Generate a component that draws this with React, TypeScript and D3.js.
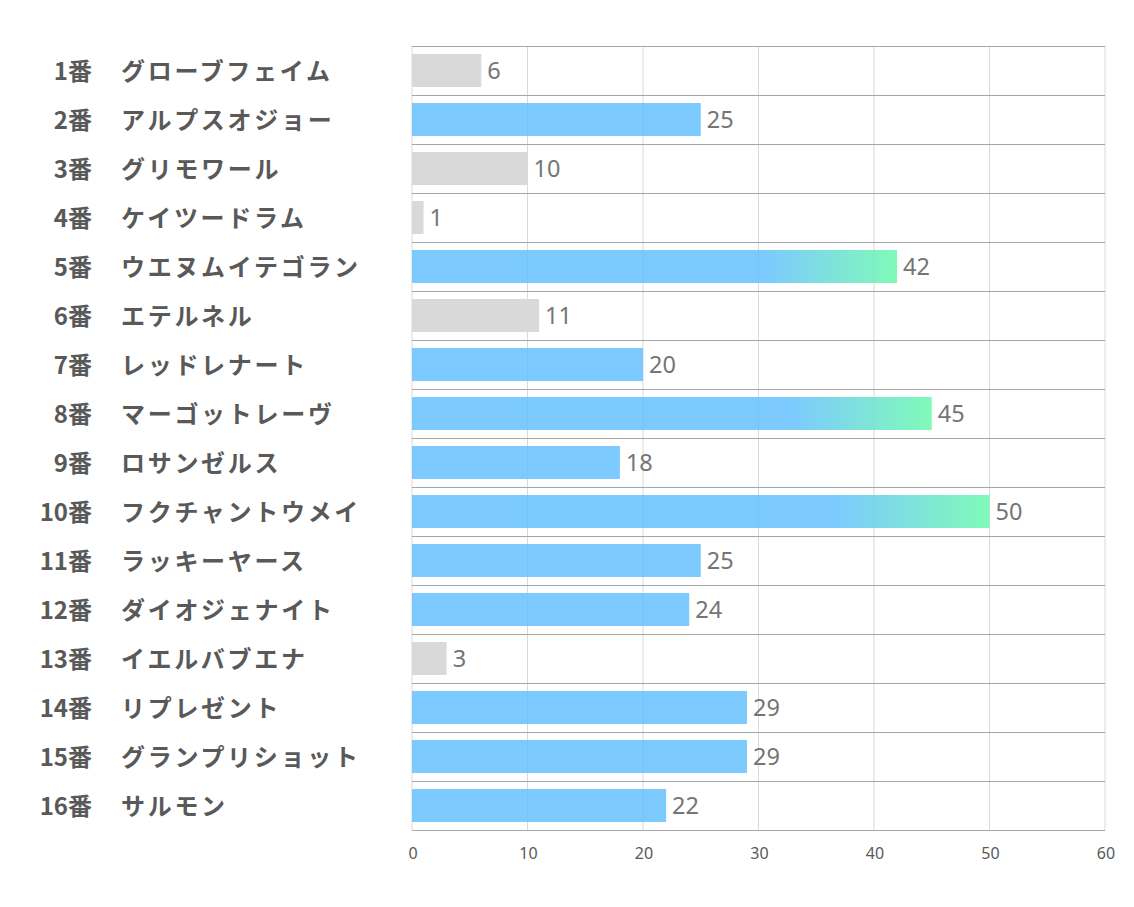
import React from "react";
import * as d3 from "d3";

const numbers = ["1番","2番","3番","4番","5番","6番","7番","8番","9番","10番","11番","12番","13番","14番","15番","16番"];
const names = ["グローブフェイム","アルプスオジョー","グリモワール","ケイツードラム","ウエヌムイテゴラン","エテルネル","レッドレナート","マーゴットレーヴ","ロサンゼルス","フクチャントウメイ","ラッキーヤース","ダイオジェナイト","イエルバブエナ","リプレゼント","グランプリショット","サルモン"];
const values = [6,25,10,1,42,11,20,45,18,50,25,24,3,29,29,22];
const kinds = ["gray","blue","gray","gray","grad","gray","blue","grad","blue","grad","blue","blue","gray","blue","blue","blue"];
const xTicks = [0,10,20,30,40,50,60];

const W = 1134, H = 907;
const left = 412, right = 1105, top = 46, bottom = 830;

export default function App() {
  const x = d3.scaleLinear().domain([0, 60]).range([left, right]);
  const y = d3.scaleBand<number>().domain(d3.range(numbers.length)).range([top, bottom]).paddingInner(0).paddingOuter(0);
  const bw = y.bandwidth();
  const barH = 33;
  const fontJP = "'Noto Sans CJK JP', 'Noto Sans', sans-serif";
  return (
    <svg width={W} height={H} style={{ position: "absolute", left: 0, top: 0, background: "#fff" }}>
      <defs>
        <linearGradient id="grad" x1="0" x2="1" y1="0" y2="0">
          <stop offset="0" stopColor="#65c1fe" />
          <stop offset="0.73" stopColor="#65c1fe" />
          <stop offset="1" stopColor="#6af9ac" />
        </linearGradient>
      </defs>
      {xTicks.map((t) => (
        <line key={"v" + t} x1={x(t)} x2={x(t)} y1={top} y2={bottom} stroke="#d9d9d9" strokeWidth={1} />
      ))}
      {d3.range(numbers.length + 1).map((i) => {
        const yy = i < numbers.length ? (y(i) as number) : bottom;
        return <line key={"h" + i} x1={left} x2={right} y1={Math.round(yy) + 0.5} y2={Math.round(yy) + 0.5} stroke="#a6a6a6" strokeWidth={1} />;
      })}
      {values.map((v, i) => {
        const yc = (y(i) as number) + bw / 2;
        const k = kinds[i];
        const fill = k === "gray" ? "#d9d9d9" : k === "grad" ? "url(#grad)" : "#65c1fe";
        return (
          <g key={"b" + i}>
            <rect x={x(0)} y={yc - barH / 2} width={x(v) - x(0)} height={barH} fill={fill} fillOpacity={k === "gray" ? 1 : 0.85} />
            <text x={x(v) + 6} y={yc - 1} dominantBaseline="central" fontFamily="'Noto Sans', sans-serif" fontSize={23.5} fill="#757575">{v}</text>
            <text x={92} y={yc - 1.5} dominantBaseline="central" textAnchor="end" fontFamily={fontJP} fontWeight={700} fontSize={24} fill="#595959">{numbers[i]}</text>
            <text x={121} y={yc - 1.5} dominantBaseline="central" fontFamily={fontJP} fontWeight={700} fontSize={24} letterSpacing={2.7} fill="#595959">{names[i]}</text>
          </g>
        );
      })}
      {xTicks.map((t) => (
        <text key={"t" + t} x={x(t) + 1} y={853} textAnchor="middle" dominantBaseline="central" fontFamily="'Noto Sans', sans-serif" fontSize={16} fill="#595959">{t}</text>
      ))}
    </svg>
  );
}
